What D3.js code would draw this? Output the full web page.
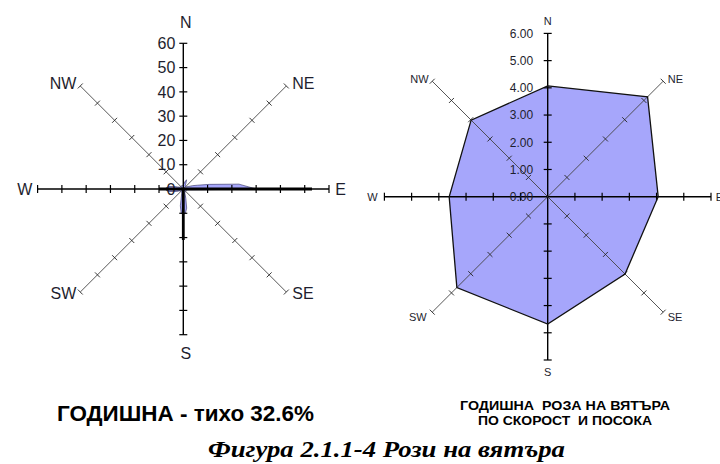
<!DOCTYPE html>
<html>
<head>
<meta charset="utf-8">
<title>Рози на вятъра</title>
<script src="https://cdn.jsdelivr.net/npm/d3@7/dist/d3.min.js"></script>
<style>
  body { margin: 0; background: #fff; }
  svg { display: block; font-family: "Liberation Sans", Arial, sans-serif; }
</style>
</head>
<body>
<svg id="chart" width="720" height="464"></svg>
<script>
// compass directions, 8 axes
var directions = ['N', 'NE', 'E', 'SE', 'S', 'SW', 'W', 'NW'];

// left rose: frequency by 5-degree sector (%), calm 32.6%
var leftAngles = [0, 5, 10, 15, 20, 25, 30, 35, 40, 45, 50, 55, 60, 65, 70, 75, 80, 85,
                  90, 95, 100, 105, 110, 115, 120, 125, 130, 135, 140, 145, 150, 155, 160, 165, 170, 175,
                  180, 185, 190, 195, 200, 205, 210, 215, 220, 225, 230, 235, 240, 245, 250, 255, 260, 265,
                  270, 275, 280, 285, 290, 295, 300, 305, 310, 315, 320, 325, 330, 335, 340, 345, 350, 355];
var leftFill = [1.8, 2, 2.5, 3.5, 4, 2.5, 1.6, 1.5, 1.5, 1.5, 1.5, 1.6, 2, 2.5, 4, 6, 11, 23,
                30, 4, 2, 1.5, 1.4, 1.4, 1.4, 1.4, 1.4, 1.4, 1.4, 1.4, 1.5, 1.6, 2, 4, 8, 10,
                10.5, 10, 7, 3, 2, 1.6, 1.5, 1.5, 1.4, 1.4, 1.4, 1.4, 1.5, 2, 3, 4, 6, 7,
                7.5, 7, 6, 4, 2.5, 1.8, 1.5, 1.5, 1.5, 1.5, 1.5, 1.5, 1.5, 1.5, 1.5, 1.5, 1.6, 1.7];
var leftLine = [0, 0, 0, 0, 0, 0, 0, 0, 0, 0, 0, 0, 0, 0, 0, 0, 0, 0,
                53, 0, 0, 0, 0, 0, 0, 0, 0, 0, 0, 0, 0, 0, 0, 0, 0, 0,
                21, 0, 0, 0, 0, 0, 0, 0, 0, 0, 0, 0, 0, 0, 0, 0, 0, 0,
                10, 0, 0, 0, 0, 0, 0, 0, 0, 0, 0, 0, 0, 0, 0, 0, 0, 0];
var leftTicks = [0, 10, 20, 30, 40, 50, 60];

// right rose: mean speed by direction (m/s)
var rightValues = [4.07, 5.19, 4.06, 4.02, 4.68, 4.72, 3.62, 3.98];
var rightTicks = [0, 1, 2, 3, 4, 5, 6];

var svg = d3.select('#chart');
var fillColor = '#a6a6fb';

function drawRose(opt) {
  var g = svg.append('g').attr('transform', 'translate(' + opt.cx + ',' + opt.cy + ')');
  var r = d3.scaleLinear().domain([0, opt.max]).range([0, opt.R]);
  var ang = d3.scaleOrdinal().domain(directions).range(d3.range(0, 360, 45));
  var rad = function(deg) { return deg * Math.PI / 180; };
  var pt = function(deg, v) { return [Math.sin(rad(deg)) * r(v), -Math.cos(rad(deg)) * r(v)]; };

  // data layer below the axes
  var layer = g.append('g');

  // axes
  directions.forEach(function(d) {
    var a = ang(d);
    var main = a % 90 === 0;
    var end = pt(a, opt.max);
    g.append('line')
      .attr('x1', 0).attr('y1', 0)
      .attr('x2', end[0]).attr('y2', end[1])
      .attr('stroke', main ? '#000' : '#444')
      .attr('stroke-width', main ? 1.4 : 0.9);
    // ticks perpendicular to the axis
    opt.ticks.slice(1).forEach(function(t) {
      var p = pt(a, t);
      var len = main ? 4 : 3.5;
      var dx = Math.cos(rad(a)) * len, dy = Math.sin(rad(a)) * len;
      g.append('line')
        .attr('x1', p[0] - dx).attr('y1', p[1] - dy)
        .attr('x2', p[0] + dx).attr('y2', p[1] + dy)
        .attr('stroke', main ? '#000' : '#222')
        .attr('stroke-width', main ? 1.2 : 0.9);
    });
  });

  // tick labels on the N axis
  g.selectAll('text.tick')
    .data(opt.ticks)
    .enter().append('text')
    .attr('class', 'tick')
    .attr('x', -opt.labelGap)
    .attr('y', function(t) { return -r(t); })
    .attr('dy', '0.36em')
    .attr('text-anchor', 'end')
    .attr('font-size', opt.tickFont)
    .attr('fill', '#1e1e2e')
    .text(opt.format);

  // direction labels
  directions.forEach(function(d) {
    var s = opt.dirPos[d];
    g.append('text')
      .attr('x', s[0]).attr('y', s[1])
      .attr('dy', '0.36em')
      .attr('text-anchor', s[2])
      .attr('font-size', opt.dirFont)
      .attr('fill', '#1e1e2e')
      .text(d);
  });

  return { layer: layer, r: r, ang: ang };
}

// ---- left rose
var L = drawRose({
  cx: 183.3, cy: 189, R: 145.7, max: 60, ticks: leftTicks,
  labelGap: 8, tickFont: 16, dirFont: 16,
  format: function(t) { return t; },
  dirPos: {
    N: [2.5, -167, 'middle'], NE: [109, -106, 'start'], E: [152, 0, 'start'],
    SE: [109, 104, 'start'], S: [2.5, 164, 'middle'], SW: [-107, 104, 'end'],
    W: [-151, 0, 'end'], NW: [-107, -106, 'end']
  }
});

var leftRadial = d3.lineRadial()
  .angle(function(d, i) { return leftAngles[i] * Math.PI / 180; })
  .radius(function(d) { return L.r(d); })
  .curve(d3.curveLinearClosed);

L.layer.append('path')
  .attr('d', leftRadial(leftFill))
  .attr('fill', fillColor)
  .attr('stroke', '#2a2a5a')
  .attr('stroke-width', 0.6);

svg.append('path')
  .attr('transform', 'translate(183.3,189)')
  .attr('d', leftRadial(leftLine))
  .attr('fill', 'none')
  .attr('stroke', '#000')
  .attr('stroke-width', 2.8)
  .attr('stroke-linejoin', 'miter');

// ---- right rose
var Rr = drawRose({
  cx: 547.7, cy: 196.7, R: 163.3, max: 6, ticks: rightTicks,
  labelGap: 14.5, tickFont: 12, dirFont: 11,
  format: d3.format('.2f'),
  dirPos: {
    N: [0, -176, 'middle'], NE: [120, -118, 'start'], E: [168, 0, 'start'],
    SE: [120, 120, 'start'], S: [0, 175, 'middle'], SW: [-121, 120, 'end'],
    W: [-170, 0, 'end'], NW: [-119, -118, 'end']
  }
});

var rightRadial = d3.lineRadial()
  .angle(function(d, i) { return Rr.ang(directions[i]) * Math.PI / 180; })
  .radius(function(d) { return Rr.r(d); })
  .curve(d3.curveLinearClosed);

Rr.layer.append('path')
  .attr('d', rightRadial(rightValues))
  .attr('fill', fillColor)
  .attr('stroke', 'none');

svg.append('path')
  .attr('transform', 'translate(547.7,196.7)')
  .attr('d', rightRadial(rightValues))
  .attr('fill', 'none')
  .attr('stroke', '#111')
  .attr('stroke-width', 1.3);

// ---- captions
svg.append('text')
  .attr('x', 57).attr('y', 421)
  .attr('font-size', 22).attr('font-weight', 'bold')
  .attr('textLength', 257).attr('lengthAdjust', 'spacingAndGlyphs')
  .text('ГОДИШНА - тихо 32.6%');

svg.append('text')
  .attr('x', 460).attr('y', 410)
  .attr('font-size', 12.5).attr('font-weight', 'bold')
  .attr('xml:space', 'preserve')
  .attr('textLength', 210).attr('lengthAdjust', 'spacingAndGlyphs')
  .text('ГОДИШНА  РОЗА НА ВЯТЪРА');

svg.append('text')
  .attr('x', 478).attr('y', 425)
  .attr('font-size', 12.5).attr('font-weight', 'bold')
  .attr('xml:space', 'preserve')
  .attr('textLength', 174).attr('lengthAdjust', 'spacingAndGlyphs')
  .text('ПО СКОРОСТ  И ПОСОКА');

svg.append('text')
  .attr('x', 208).attr('y', 457)
  .attr('font-family', '"Liberation Serif", "Times New Roman", serif')
  .attr('font-size', 23).attr('font-weight', 'bold').attr('font-style', 'italic')
  .attr('textLength', 357).attr('lengthAdjust', 'spacingAndGlyphs')
  .text('Фигура 2.1.1-4 Рози на вятъра');
</script>
</body>
</html>
